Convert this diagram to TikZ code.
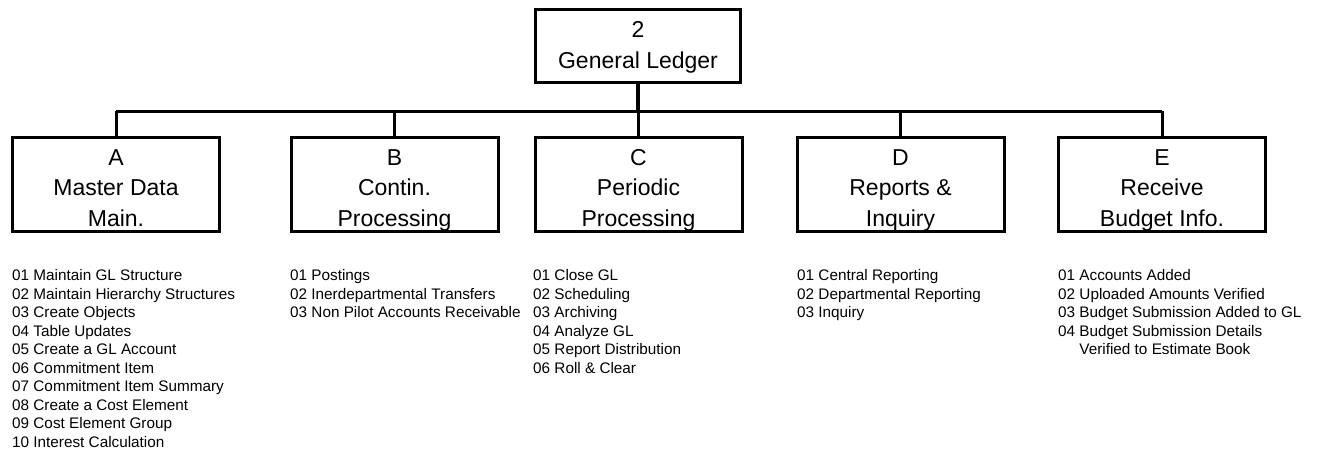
\documentclass[tikz,border=0pt]{standalone}
\usepackage{fontspec}
\setmainfont{Liberation Sans}
\newcommand{\topst}[1]{\rule{0pt}{#1}}
\newcommand{\botst}{\rule[-5pt]{0pt}{5pt}}
\begin{document}
\begin{tikzpicture}[x=1pt,y=-1pt,
  box/.style={draw,line width=3pt,minimum width=207pt,minimum height=92pt,inner sep=0pt,align=center,font=\fontsize{23}{30.5}\selectfont},
  topbox/.style={box,minimum width=205pt,minimum height=73pt,font=\fontsize{23}{31}\selectfont},
  conn/.style={line width=3pt},
  list/.style={anchor=north west,inner sep=0pt,align=left,font=\fontsize{15.3}{18.5}\selectfont}]
\useasboundingbox (0,0) rectangle (1317,448);
\node[topbox] (gl) at (638,45.5) {\topst{19.2pt}2\\General Ledger\botst};
\node[box] (A) at (116,184) {\topst{28pt}A\\Master Data\\Main.\botst};
\node[box] (B) at (394.5,184) {\topst{28pt}B\\Contin.\\Processing\botst};
\node[box] (C) at (638.5,184) {\topst{28pt}C\\Periodic\\Processing\botst};
\node[box] (D) at (900.5,184) {\topst{28pt}D\\Reports \&\\Inquiry\botst};
\node[box] (E) at (1162,184) {\topst{28pt}E\\Receive\\Budget Info.\botst};
\coordinate (bus) at (0,111);
\draw[conn,line width=3.5pt] (gl.south) -- (gl.south |- bus);
\draw[conn] (A.north |- bus) -- (E.north |- bus);
\foreach \n in {A,B,C,D,E}{\draw[conn] (\n.north) -- (\n.north |- bus);}
\node[list] (la) at (12,269.5) {01 Maintain GL Structure\\02 Maintain Hierarchy Structures\\03 Create Objects\\04 Table Updates\\05 Create a GL Account\\06 Commitment Item\\07 Commitment Item Summary\\08 Create a Cost Element\\09 Cost Element Group\\10 Interest Calculation};
\node[list] (lb) at (290,269.5) {01 Postings\\02 Inerdepartmental Transfers\\03 Non Pilot Accounts Receivable};
\node[list] (lc) at (533,269.5) {01 Close GL\\02 Scheduling\\03 Archiving\\04 Analyze GL\\05 Report Distribution\\06 Roll \& Clear};
\node[list] (ld) at (797,269.5) {01 Central Reporting\\02 Departmental Reporting\\03 Inquiry};
\node[list] (le) at (1058,269.5) {01 Accounts Added\\02 Uploaded Amounts Verified\\03 Budget Submission Added to GL\\04 Budget Submission Details\\\hspace*{1.39em}Verified to Estimate Book};
\end{tikzpicture}
\end{document}
